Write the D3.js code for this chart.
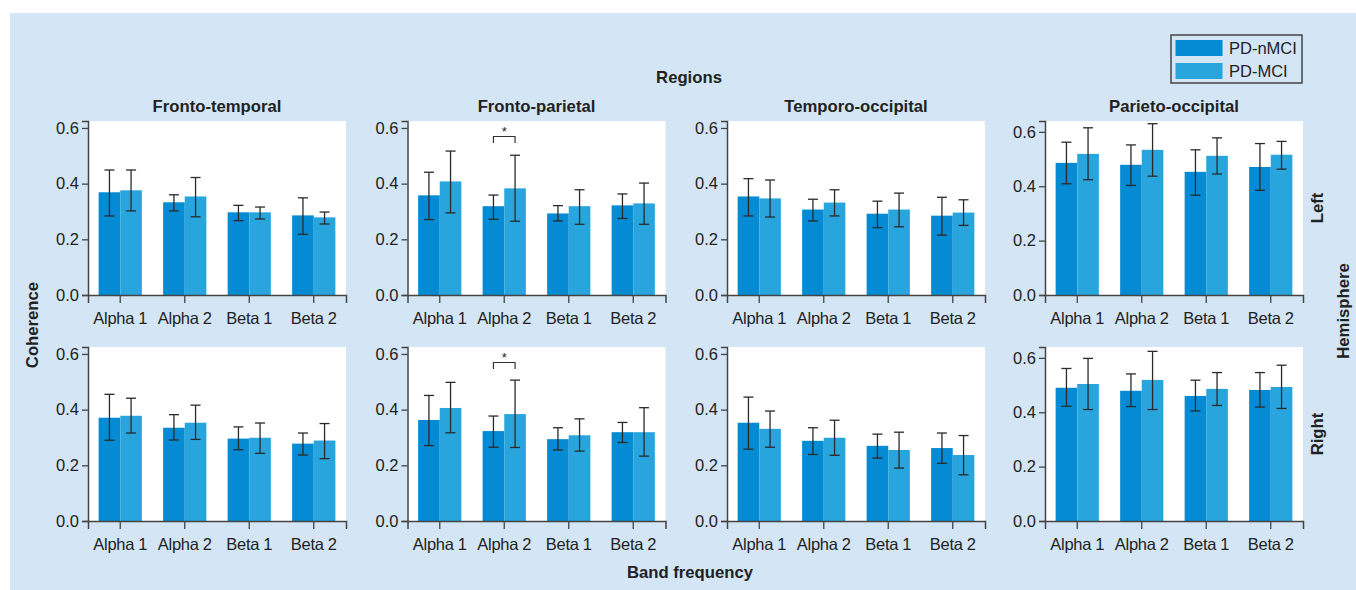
<!DOCTYPE html>
<html><head><meta charset="utf-8">
<script src="https://cdn.jsdelivr.net/npm/d3@7"></script>
<style>
html,body{margin:0;padding:0;background:#fff;}
text{font-family:"Liberation Sans",Arial,Helvetica,sans-serif;fill:#222;}
</style></head>
<body><svg id="chart" width="1356" height="590"></svg>
<script>
// ---------- data ----------
const bands = ["Alpha 1", "Alpha 2", "Beta 1", "Beta 2"];
const groups = ["PD-nMCI", "PD-MCI"];
const regions = ["Fronto-temporal", "Fronto-parietal", "Temporo-occipital", "Parieto-occipital"];
const hemispheres = ["Left", "Right"];
const yTicks = [0, 0.2, 0.4, 0.6];

// Left hemisphere
const ftLeftNMCI = [0.369, 0.333, 0.297, 0.286];
const ftLeftNMCIerr = [[0.284, 0.449], [0.302, 0.360], [0.267, 0.322], [0.218, 0.349]];
const ftLeftMCI = [0.376, 0.354, 0.297, 0.279];
const ftLeftMCIerr = [[0.302, 0.449], [0.281, 0.422], [0.273, 0.316], [0.255, 0.298]];

const fpLeftNMCI = [0.358, 0.319, 0.293, 0.322];
const fpLeftNMCIerr = [[0.271, 0.441], [0.272, 0.359], [0.266, 0.321], [0.275, 0.363]];
const fpLeftMCI = [0.408, 0.383, 0.319, 0.329];
const fpLeftMCIerr = [[0.295, 0.517], [0.265, 0.502], [0.254, 0.378], [0.254, 0.402]];

const toLeftNMCI = [0.354, 0.307, 0.292, 0.285];
const toLeftNMCIerr = [[0.284, 0.418], [0.266, 0.344], [0.242, 0.337], [0.215, 0.351]];
const toLeftMCI = [0.347, 0.332, 0.307, 0.296];
const toLeftMCIerr = [[0.280, 0.413], [0.284, 0.378], [0.245, 0.366], [0.250, 0.342]];

const poLeftNMCI = [0.486, 0.479, 0.453, 0.471];
const poLeftNMCIerr = [[0.409, 0.562], [0.403, 0.552], [0.367, 0.534], [0.385, 0.557]];
const poLeftMCI = [0.519, 0.534, 0.512, 0.516];
const poLeftMCIerr = [[0.424, 0.615], [0.437, 0.630], [0.445, 0.578], [0.463, 0.565]];

// Right hemisphere
const ftRightNMCI = [0.371, 0.335, 0.296, 0.278];
const ftRightNMCIerr = [[0.290, 0.455], [0.291, 0.382], [0.256, 0.338], [0.237, 0.316]];
const ftRightMCI = [0.378, 0.353, 0.299, 0.289];
const ftRightMCIerr = [[0.316, 0.441], [0.293, 0.416], [0.243, 0.352], [0.224, 0.350]];

const fpRightNMCI = [0.363, 0.323, 0.294, 0.319];
const fpRightNMCIerr = [[0.271, 0.451], [0.265, 0.377], [0.255, 0.335], [0.282, 0.354]];
const fpRightMCI = [0.406, 0.384, 0.308, 0.319];
const fpRightMCIerr = [[0.317, 0.498], [0.264, 0.506], [0.251, 0.367], [0.233, 0.407]];

const toRightNMCI = [0.353, 0.288, 0.270, 0.262];
const toRightNMCIerr = [[0.258, 0.445], [0.239, 0.335], [0.226, 0.312], [0.207, 0.316]];
const toRightMCI = [0.331, 0.299, 0.255, 0.237];
const toRightMCIerr = [[0.265, 0.395], [0.236, 0.362], [0.190, 0.319], [0.166, 0.307]];

const poRightNMCI = [0.490, 0.479, 0.460, 0.482];
const poRightNMCIerr = [[0.422, 0.561], [0.421, 0.541], [0.405, 0.518], [0.419, 0.546]];
const poRightMCI = [0.504, 0.519, 0.486, 0.493];
const poRightMCIerr = [[0.410, 0.598], [0.410, 0.624], [0.425, 0.546], [0.414, 0.573]];

// significance markers: [region, band]
const significance = [["Fronto-parietal", "Alpha 2"]];

// ---------- assemble ----------
const panelData = {
  Left: [
    [ftLeftNMCI, ftLeftNMCIerr, ftLeftMCI, ftLeftMCIerr],
    [fpLeftNMCI, fpLeftNMCIerr, fpLeftMCI, fpLeftMCIerr],
    [toLeftNMCI, toLeftNMCIerr, toLeftMCI, toLeftMCIerr],
    [poLeftNMCI, poLeftNMCIerr, poLeftMCI, poLeftMCIerr]
  ],
  Right: [
    [ftRightNMCI, ftRightNMCIerr, ftRightMCI, ftRightMCIerr],
    [fpRightNMCI, fpRightNMCIerr, fpRightMCI, fpRightMCIerr],
    [toRightNMCI, toRightNMCIerr, toRightMCI, toRightMCIerr],
    [poRightNMCI, poRightNMCIerr, poRightMCI, poRightMCIerr]
  ]
};

const colors = {"PD-nMCI": "#048bd3", "PD-MCI": "#29a5de"};
const svg = d3.select("#chart");

// background
svg.append("rect").attr("x", 10).attr("y", 13).attr("width", 1346).attr("height", 577).attr("fill", "#d4e6f5");

const colX = [88, 407.5, 727, 1045];
const plotW = 258;
const rowY = [121, 347];
const plotH = 174;
const yMax = [0.625, 0.625, 0.625, 0.64];

const axisColor = "#444";
const boldSize = "16.7px";

hemispheres.forEach((hemi, r) => {
  regions.forEach((reg, c) => {
    const x0 = colX[c], y0 = rowY[r];
    const g = svg.append("g");
    g.append("rect").attr("x", x0).attr("y", y0).attr("width", plotW).attr("height", plotH).attr("fill", "#fff");

    const x = d3.scaleBand().domain(bands).range([x0, x0 + plotW]).paddingInner(0.33).paddingOuter(0.165);
    const xs = d3.scaleBand().domain(groups).range([0, x.bandwidth()]).padding(0);
    const y = d3.scaleLinear().domain([0, yMax[c]]).range([y0 + plotH, y0]);

    const [m1, e1, m2, e2] = panelData[hemi][c];
    const rows = [];
    bands.forEach((b, i) => {
      rows.push({band: b, group: groups[0], v: m1[i], lo: e1[i][0], hi: e1[i][1]});
      rows.push({band: b, group: groups[1], v: m2[i], lo: e2[i][0], hi: e2[i][1]});
    });

    g.selectAll("rect.bar").data(rows).join("rect").attr("class", "bar")
      .attr("x", d => x(d.band) + xs(d.group))
      .attr("width", xs.bandwidth())
      .attr("y", d => y(d.v))
      .attr("height", d => y(0) - y(d.v))
      .attr("fill", d => colors[d.group]);

    const cap = 5;
    const eb = g.selectAll("g.eb").data(rows).join("g").attr("class", "eb")
      .attr("stroke", "#2a2a2a").attr("stroke-width", 1.3);
    eb.append("line")
      .attr("x1", d => x(d.band) + xs(d.group) + xs.bandwidth() / 2)
      .attr("x2", d => x(d.band) + xs(d.group) + xs.bandwidth() / 2)
      .attr("y1", d => y(d.lo)).attr("y2", d => y(d.hi));
    ["lo", "hi"].forEach(k => {
      eb.append("line")
        .attr("x1", d => x(d.band) + xs(d.group) + xs.bandwidth() / 2 - cap)
        .attr("x2", d => x(d.band) + xs(d.group) + xs.bandwidth() / 2 + cap)
        .attr("y1", d => y(d[k])).attr("y2", d => y(d[k]));
    });

    // significance bracket
    significance.filter(s => s[0] === reg).forEach(s => {
      const b = s[1];
      const xa = x(b) + xs(groups[0]) + xs.bandwidth() / 2;
      const xb = x(b) + xs(groups[1]) + xs.bandwidth() / 2;
      const top = y0 + 15.5, leg = 6.5;
      g.append("path").attr("d", `M${xa},${top + leg}V${top}H${xb}V${top + leg}`)
        .attr("fill", "none").attr("stroke", "#333").attr("stroke-width", 1.2);
      g.append("text").attr("x", (xa + xb) / 2).attr("y", top - 1)
        .attr("text-anchor", "middle").style("font-size", "13px").text("*");
    });

    // axes
    const yAxis = d3.axisLeft(y).tickValues(yTicks).tickFormat(d3.format(".1f")).tickSizeOuter(0).tickSize(6).tickPadding(3);
    const ya = g.append("g").attr("transform", `translate(${x0},0)`).call(yAxis);
    const xAxis = d3.axisBottom(x).tickSizeOuter(0).tickSize(8).tickPadding(9);
    const xa = g.append("g").attr("transform", `translate(0,${y0 + plotH})`).call(xAxis);
    [ya, xa].forEach(a => {
      a.select(".domain").attr("stroke", axisColor).attr("stroke-width", 1.5);
      a.selectAll(".tick line").attr("stroke", axisColor).attr("stroke-width", 1.3);
      a.selectAll(".tick text").style("font-size", "16.5px").style("font-family", '"Liberation Sans",Arial,sans-serif').attr("fill", "#222");
    });
    xa.selectAll(".tick text").style("letter-spacing", "-0.3px");

    if (r === 0) {
      svg.append("text").attr("x", x0 + plotW / 2).attr("y", y0 - 9)
        .attr("text-anchor", "middle").style("font-size", boldSize).style("font-weight", "bold").text(reg);
    }
  });
  // hemisphere labels
  svg.append("text").attr("transform", `translate(1323,${rowY[r] + plotH / 2}) rotate(-90)`)
    .attr("text-anchor", "middle").style("font-size", boldSize).style("font-weight", "bold").text(hemi);
});

// global labels
svg.append("text").attr("x", 689).attr("y", 83).attr("text-anchor", "middle")
  .style("font-size", boldSize).style("font-weight", "bold").text("Regions");
svg.append("text").attr("x", 690).attr("y", 578).attr("text-anchor", "middle")
  .style("font-size", boldSize).style("font-weight", "bold").text("Band frequency");
svg.append("text").attr("transform", "translate(38,325) rotate(-90)").attr("text-anchor", "middle")
  .style("font-size", boldSize).style("font-weight", "bold").text("Coherence");
svg.append("text").attr("transform", "translate(1349,311) rotate(-90)").attr("text-anchor", "middle")
  .style("font-size", boldSize).style("font-weight", "bold").text("Hemisphere");

// legend
const lg = svg.append("g");
lg.append("rect").attr("x", 1171).attr("y", 35).attr("width", 131).attr("height", 48)
  .attr("fill", "none").attr("stroke", "#444").attr("stroke-width", 1.5);
groups.forEach((gname, i) => {
  lg.append("rect").attr("x", 1175.5).attr("y", 40 + i * 23).attr("width", 47).attr("height", 16).attr("fill", colors[gname]);
  lg.append("text").attr("x", 1229).attr("y", 54 + i * 23).style("font-size", "16.5px").text(gname);
});
</script>
</body></html>
